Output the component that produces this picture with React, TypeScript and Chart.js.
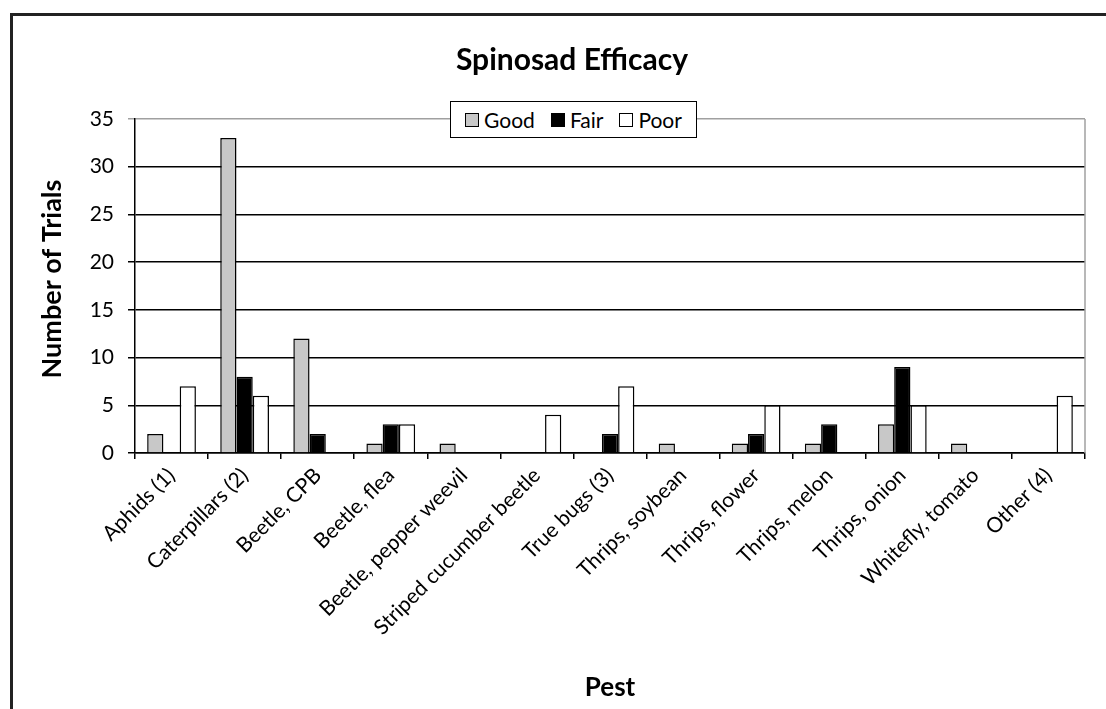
import React, { useEffect, useRef } from "react";
import { Chart, registerables } from "chart.js";

Chart.register(...registerables);

const categories = [
  "Aphids (1)",
  "Caterpillars (2)",
  "Beetle, CPB",
  "Beetle, flea",
  "Beetle, pepper weevil",
  "Striped cucumber beetle",
  "True bugs (3)",
  "Thrips, soybean",
  "Thrips, flower",
  "Thrips, melon",
  "Thrips, onion",
  "Whitefly, tomato",
  "Other (4)",
];
const goodValues = [2, 33, 12, 1, 1, 0, 0, 1, 1, 1, 3, 1, 0];
const fairValues = [0, 8, 2, 3, 0, 0, 2, 0, 2, 3, 9, 0, 0];
const poorValues = [7, 6, 0, 3, 0, 4, 7, 0, 5, 0, 5, 0, 6];
const yTicks = [0, 5, 10, 15, 20, 25, 30, 35];

const chartTitle = "Spinosad Efficacy";
const yTitle = "Number of Trials";
const xTitle = "Pest";

const FONT = "Lato, 'Open Sans', sans-serif";

const W = 1106;
const H = 709;
const PLOT_LEFT = 135;
const PLOT_RIGHT = 1085;
const PLOT_TOP = 119;
const PLOT_BOTTOM = 453;

const textPlugin = {
  id: "textPlugin",
  afterDraw(chart: any) {
    const ctx = chart.ctx;
    const area = chart.chartArea;
    ctx.save();
    ctx.strokeStyle = "#a0a0a0";
    ctx.lineWidth = 1.5;
    ctx.beginPath();
    ctx.moveTo(area.right, area.top);
    ctx.lineTo(area.right, area.bottom);
    ctx.stroke();

    ctx.fillStyle = "#000";
    ctx.textAlign = "center";
    ctx.textBaseline = "middle";
    ctx.font = `bold 30px ${FONT}`;
    ctx.fillText(chartTitle, 572, 60);
    ctx.font = `bold 26px ${FONT}`;
    ctx.fillText(xTitle, 610, 688);
    ctx.font = `bold 27px ${FONT}`;
    ctx.translate(52, 279);
    ctx.rotate(-Math.PI / 2);
    ctx.fillText(yTitle, 0, 0);
    ctx.restore();
  },
};

function LegendItem({ color, label }: { color: string; label: string }) {
  return (
    <span style={{ display: "inline-flex", alignItems: "center", marginRight: 16 }}>
      <span
        style={{
          display: "inline-block",
          width: 14,
          height: 14,
          border: "1px solid #000",
          background: color,
          marginRight: 5,
          boxSizing: "border-box",
        }}
      />
      <span>{label}</span>
    </span>
  );
}

export default function App() {
  const ref = useRef<HTMLCanvasElement>(null);

  useEffect(() => {
    if (!ref.current) return;
    const chart = new Chart(ref.current, {
      type: "bar",
      data: {
        labels: categories,
        datasets: [
          {
            label: "Good",
            data: goodValues,
            backgroundColor: "#c8c8c8",
            borderColor: "#000",
            borderWidth: 1.5,
          },
          {
            label: "Fair",
            data: fairValues,
            backgroundColor: "#000",
            borderColor: "#000",
            borderWidth: 1.5,
          },
          {
            label: "Poor",
            data: poorValues,
            backgroundColor: "#fff",
            borderColor: "#000",
            borderWidth: 1.5,
          },
        ],
      },
      options: {
        responsive: false,
        animation: false,
        layout: {
          padding: { left: 0, top: PLOT_TOP, right: W - PLOT_RIGHT, bottom: 0 },
        },
        datasets: {
          bar: {
            categoryPercentage: 0.667,
            barPercentage: 1,
          },
        },
        plugins: {
          legend: { display: false },
          title: { display: false },
          tooltip: { enabled: false },
        },
        scales: {
          x: {
            afterFit(scale: any) {
              scale.height = H - PLOT_BOTTOM;
            },
            grid: {
              display: true,
              drawOnChartArea: false,
              drawTicks: true,
              tickLength: 6,
              color: "#000",
              lineWidth: 1.5,
              offset: true,
            },
            border: { display: true, color: "#000", width: 1.5 },
            ticks: {
              color: "#000",
              font: { family: FONT, size: 21 },
              maxRotation: 45,
              minRotation: 45,
              autoSkip: false,
              padding: 4,
            },
          },
          y: {
            min: 0,
            max: 35,
            afterFit(scale: any) {
              scale.width = PLOT_LEFT;
            },
            afterBuildTicks(scale: any) {
              scale.ticks = yTicks.map((v) => ({ value: v }));
            },
            grid: {
              color: (c: any) => (c.tick && c.tick.value === 35 ? "#a0a0a0" : "#000"),
              lineWidth: 1.5,
              tickLength: 7,
            },
            border: { display: true, color: "#000", width: 1.5 },
            ticks: {
              color: "#000",
              font: { family: FONT, size: 21 },
              padding: 14,
            },
          },
        },
      },
      plugins: [textPlugin],
    });
    return () => chart.destroy();
  }, []);

  return (
    <div style={{ position: "fixed", left: 0, top: 0, width: W, height: H, overflow: "hidden", background: "#fff" }}>
      <div
        style={{
          position: "absolute",
          left: 10,
          top: 13,
          width: 1300,
          height: 900,
          borderLeft: "3px solid #222",
          borderTop: "3px solid #222",
        }}
      />
      <canvas ref={ref} width={W} height={H} style={{ position: "absolute", left: 0, top: 0 }} />
      <div
        style={{
          position: "absolute",
          left: 450,
          top: 101,
          width: 247,
          height: 37,
          boxSizing: "border-box",
          border: "1.5px solid #000",
          background: "#fff",
          display: "flex",
          alignItems: "center",
          justifyContent: "center",
          fontFamily: FONT,
          fontSize: 21,
          color: "#000",
          paddingLeft: 16,
        }}
      >
        <LegendItem color="#c8c8c8" label="Good" />
        <LegendItem color="#000" label="Fair" />
        <LegendItem color="#fff" label="Poor" />
      </div>
    </div>
  );
}
